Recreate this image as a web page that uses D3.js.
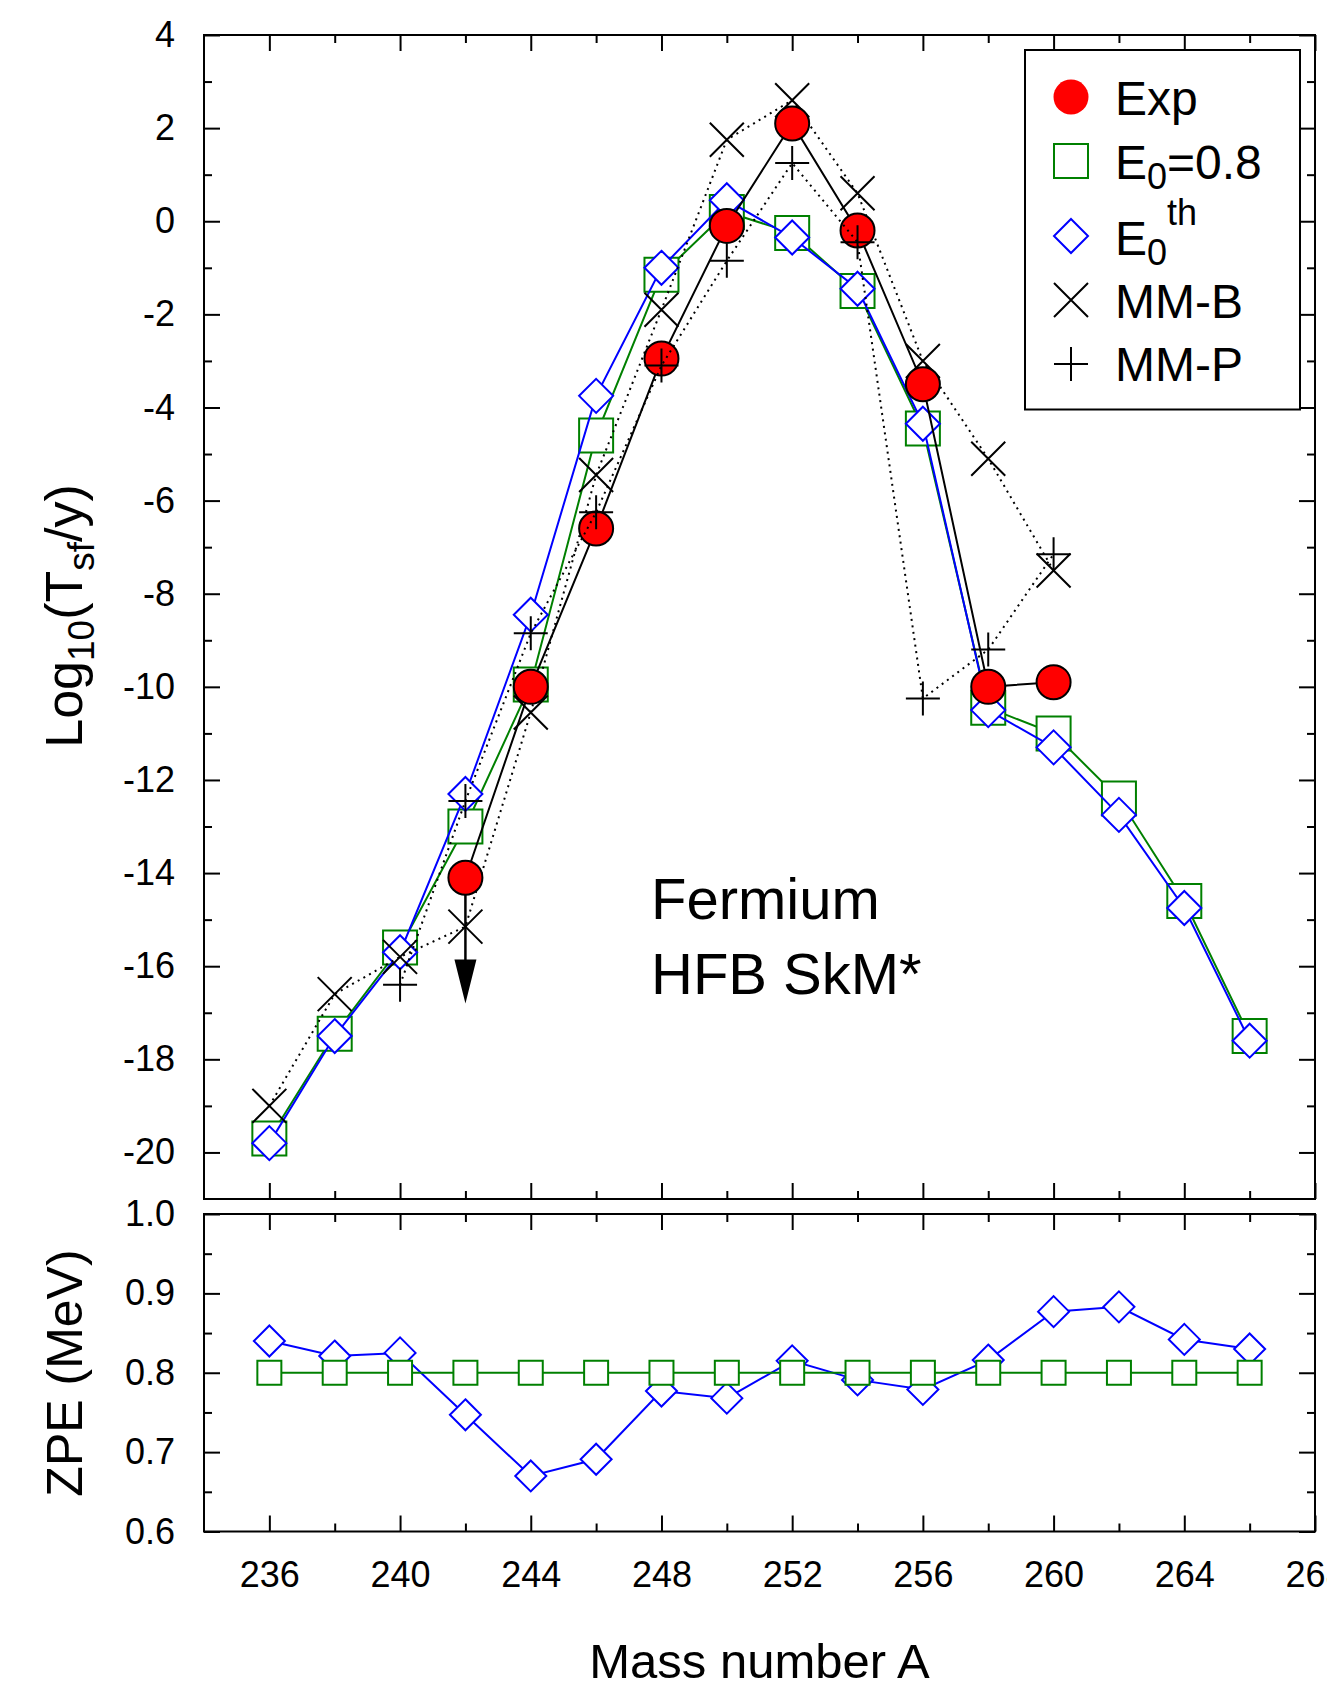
<!DOCTYPE html>
<html>
<head>
<meta charset="utf-8">
<script src="https://cdn.jsdelivr.net/npm/d3@7"></script>
<style>
  body { margin: 0; background: #fff; }
  svg { display: block; font-family: "Liberation Sans", Arial, sans-serif; }
</style>
</head>
<body>
<div id="chart"></div>
<script>
// Data
const massAll = [236, 238, 240, 242, 244, 246, 248, 250, 252, 254, 256, 258, 260, 262, 264, 266];
const e08Values = [-19.7, -17.45, -15.6, -13.0, -9.95, -4.6, -1.15, 0.2, -0.25, -1.5, -4.45, -10.45, -11.0, -12.4, -14.6, -17.5];
const e0thValues = [-19.8, -17.5, -15.7, -12.3, -8.45, -3.75, -1.0, 0.45, -0.35, -1.45, -4.35, -10.5, -11.3, -12.75, -14.75, -17.6];

const massExp = [242, 244, 246, 248, 250, 252, 254, 256, 258, 260];
const expValues = [-14.1, -10.0, -6.6, -2.95, -0.1, 2.1, -0.2, -3.5, -10.0, -9.9];
const expLimitMass = 242;
const expLimitTip = -16.8; // upper limit arrow for 242Fm

const massMMB = [236, 238, 240, 242, 244, 246, 248, 250, 252, 254, 256, 258, 260];
const mmbValues = [-19.0, -16.6, -15.8, -15.15, -10.55, -5.45, -1.9, 1.75, 2.6, 0.6, -3.0, -5.1, -7.5];

const massMMP = [240, 242, 244, 246, 248, 250, 252, 254, 256, 258, 260];
const mmpValues = [-16.4, -12.45, -8.85, -6.25, -3.1, -0.85, 1.25, -0.45, -10.25, -9.2, -7.15];

const zpeFixed = [0.8, 0.8, 0.8, 0.8, 0.8, 0.8, 0.8, 0.8, 0.8, 0.8, 0.8, 0.8, 0.8, 0.8, 0.8, 0.8];
const zpeTh = [0.840, 0.821, 0.825, 0.747, 0.670, 0.691, 0.777, 0.768, 0.815, 0.791, 0.779, 0.816, 0.877, 0.883, 0.842, 0.830];

// Tick labels
const xTickLabels = [236, 240, 244, 248, 252, 256, 260, 264, 268];
const xMinorTicks = [238, 242, 246, 250, 254, 258, 262, 266];
const topTickLabels = [4, 2, 0, -2, -4, -6, -8, -10, -12, -14, -16, -18, -20];
const topMinorTicks = [3, 1, -1, -3, -5, -7, -9, -11, -13, -15, -17, -19];
const zpeTickLabels = [1.0, 0.9, 0.8, 0.7, 0.6];
const zpeMinorTicks = [0.95, 0.85, 0.75, 0.65];

const W = 1327, H = 1691;
const plotLeft = 204, plotRight = 1315;
const top1 = 35, bot1 = 1199;
const top2 = 1214, bot2 = 1531.5;

const svg = d3.select("#chart").append("svg")
    .attr("width", W)
    .attr("height", H);

const x = d3.scaleLinear().domain([234, 268]).range([plotLeft, plotRight]);
const yTop = d3.scaleLinear().domain([-21, 4]).range([bot1, top1]);
const yBot = d3.scaleLinear().domain([0.6, 1.0]).range([bot2, top2]);

// ---------- axes ----------
function drawAxes(yScale, yTop_, yBot_, majorY, minorY, yFmt, showXLabels) {
    const g = svg.append("g");
    const majorLen = 16, minorLen = 8;

    const addAxis = (axis, tx, ty) => {
        const a = g.append("g")
            .attr("transform", `translate(${tx},${ty})`)
            .call(axis);
        a.select(".domain").remove();
        a.selectAll("line").attr("stroke", "#000").attr("stroke-width", 2);
        a.selectAll("text").attr("font-size", 36).attr("fill", "#000")
            .attr("font-family", "Liberation Sans, Arial, sans-serif");
        return a;
    };

    // bottom
    addAxis(d3.axisBottom(x).tickValues(xTickLabels).tickSize(-majorLen).tickPadding(30)
        .tickFormat(showXLabels ? d => String(d) : ""), 0, yBot_);
    addAxis(d3.axisBottom(x).tickValues(xMinorTicks).tickSize(-minorLen).tickFormat(""), 0, yBot_);
    // top
    addAxis(d3.axisTop(x).tickValues(xTickLabels).tickSize(-majorLen).tickFormat(""), 0, yTop_);
    addAxis(d3.axisTop(x).tickValues(xMinorTicks).tickSize(-minorLen).tickFormat(""), 0, yTop_);
    // left
    addAxis(d3.axisLeft(yScale).tickValues(majorY).tickSize(-majorLen).tickPadding(29).tickFormat(yFmt), plotLeft, 0);
    addAxis(d3.axisLeft(yScale).tickValues(minorY).tickSize(-minorLen).tickFormat(""), plotLeft, 0);
    // right
    addAxis(d3.axisRight(yScale).tickValues(majorY).tickSize(-majorLen).tickFormat(""), plotRight, 0);
    addAxis(d3.axisRight(yScale).tickValues(minorY).tickSize(-minorLen).tickFormat(""), plotRight, 0);

    g.append("rect")
        .attr("x", plotLeft).attr("y", yTop_)
        .attr("width", plotRight - plotLeft).attr("height", yBot_ - yTop_)
        .attr("fill", "none").attr("stroke", "#000").attr("stroke-width", 2);
}

drawAxes(yTop, top1, bot1, topTickLabels, topMinorTicks, d => String(d), false);
drawAxes(yBot, top2, bot2, zpeTickLabels, zpeMinorTicks, d3.format(".1f"), true);

// ---------- markers ----------
function squarePath(s) { return `M${-s},${-s}H${s}V${s}H${-s}Z`; }
function diamondPath(s) { return `M0,${-s}L${s},0L0,${s}L${-s},0Z`; }
function crossPath(s) { return `M${-s},${-s}L${s},${s}M${-s},${s}L${s},${-s}`; }
function plusPath(s) { return `M${-s},0H${s}M0,${-s}V${s}`; }

function drawSeries(xs, ys, yScale, opts) {
    const pts = xs.map((m, i) => [x(m), yScale(ys[i])]);
    const g = svg.append("g");
    g.append("path")
        .attr("d", d3.line()(pts))
        .attr("fill", "none")
        .attr("stroke", opts.color)
        .attr("stroke-width", opts.lineWidth || 2)
        .attr("stroke-dasharray", opts.dash || null);
    if (opts.before) opts.before(g);
    g.selectAll(".pt")
        .data(pts)
        .enter().append(opts.shape === "circle" ? "circle" : "path")
        .attr("class", "pt")
        .each(function(d) {
            const el = d3.select(this);
            if (opts.shape === "circle") {
                el.attr("cx", d[0]).attr("cy", d[1]).attr("r", opts.size);
            } else {
                el.attr("transform", `translate(${d[0]},${d[1]})`).attr("d", opts.shape(opts.size));
            }
        })
        .attr("fill", opts.fill)
        .attr("stroke", opts.markerStroke || opts.color)
        .attr("stroke-width", opts.markerWidth || 2);
}

// top panel: half-life curves
drawSeries(massAll, e08Values, yTop, { color: "#008000", shape: squarePath, size: 17, fill: "#fff" });
drawSeries(massAll, e0thValues, yTop, { color: "#0000ff", shape: diamondPath, size: 17, fill: "#fff" });
drawSeries(massMMB, mmbValues, yTop, { color: "#000", dash: "2,4.5", shape: crossPath, size: 17, fill: "none" });
drawSeries(massExp, expValues, yTop, {
    color: "#000", shape: "circle", size: 17, fill: "#ff0000", markerStroke: "#000",
    before: g => {
        // upper-limit arrow below the 242 point
        const ax = x(expLimitMass);
        const ay0 = yTop(expValues[massExp.indexOf(expLimitMass)]);
        const ay1 = yTop(expLimitTip);
        g.append("line")
            .attr("x1", ax).attr("x2", ax).attr("y1", ay0).attr("y2", ay1 - 40)
            .attr("stroke", "#000").attr("stroke-width", 2.5);
        g.append("path")
            .attr("d", `M${ax - 11},${ay1 - 44}L${ax + 11},${ay1 - 44}L${ax},${ay1}Z`)
            .attr("fill", "#000");
    }
});
drawSeries(massMMP, mmpValues, yTop, { color: "#000", dash: "2,4.5", shape: plusPath, size: 17, fill: "none" });

// bottom panel: ZPE (squares sit on top of the diamonds)
drawSeries(massAll, zpeTh, yBot, { color: "#0000ff", shape: diamondPath, size: 15.5, fill: "#fff" });
drawSeries(massAll, zpeFixed, yBot, { color: "#008000", shape: squarePath, size: 12, fill: "#fff" });

// ---------- legend ----------
const legend = svg.append("g");
legend.append("rect")
    .attr("x", 1025).attr("y", 50).attr("width", 275).attr("height", 359.5)
    .attr("fill", "#fff").attr("stroke", "#000").attr("stroke-width", 2);

const legendRows = [
    { shape: "circle", color: "#ff0000", cy: 97, base: 115 },
    { shape: squarePath, color: "#008000", cy: 161, base: 179 },
    { shape: diamondPath, color: "#0000ff", cy: 236, base: 254.5 },
    { shape: crossPath, color: "#000", cy: 300, base: 317.5 },
    { shape: plusPath, color: "#000", cy: 364, base: 381 }
];
const lx = 1071, tx = 1115;
legendRows.forEach((r, i) => {
    if (r.shape === "circle") {
        legend.append("circle").attr("cx", lx).attr("cy", r.cy).attr("r", 17.5).attr("fill", r.color);
    } else {
        legend.append("path")
            .attr("transform", `translate(${lx},${r.cy})`)
            .attr("d", r.shape(17))
            .attr("fill", "none").attr("stroke", r.color).attr("stroke-width", 2);
    }
    const t = legend.append("text").attr("x", tx).attr("y", r.base)
        .attr("font-size", 48).attr("fill", "#000");
    if (i === 0) t.text("Exp");
    if (i === 1) {
        t.append("tspan").text("E");
        t.append("tspan").attr("font-size", 36).attr("dy", 10).text("0");
        t.append("tspan").attr("dy", -10).text("=0.8");
    }
    if (i === 2) {
        t.append("tspan").text("E");
        t.append("tspan").attr("font-size", 36).attr("dy", 10).text("0");
        t.append("tspan").attr("font-size", 36).attr("dy", -40).text("th");
    }
    if (i === 3) t.text("MM-B");
    if (i === 4) t.text("MM-P");
});

// ---------- annotation and axis titles ----------
svg.append("text").attr("x", 651).attr("y", 919).attr("font-size", 58).text("Fermium");
svg.append("text").attr("x", 651).attr("y", 994).attr("font-size", 58).text("HFB SkM*");

svg.append("text")
    .attr("x", (plotLeft + plotRight) / 2).attr("y", 1678)
    .attr("text-anchor", "middle").attr("font-size", 49)
    .text("Mass number A");

const yt = svg.append("text")
    .attr("transform", "translate(82,616) rotate(-90)")
    .attr("text-anchor", "middle").attr("font-size", 52);
yt.append("tspan").text("Log");
yt.append("tspan").attr("font-size", 37).attr("dy", 12).text("10");
yt.append("tspan").attr("dy", -12).text("(T");
yt.append("tspan").attr("font-size", 37).attr("dy", 12).text("sf");
yt.append("tspan").attr("dy", -12).text("/y)");

svg.append("text")
    .attr("transform", "translate(82,1373) rotate(-90)")
    .attr("text-anchor", "middle").attr("font-size", 50)
    .text("ZPE (MeV)");
</script>
</body>
</html>
